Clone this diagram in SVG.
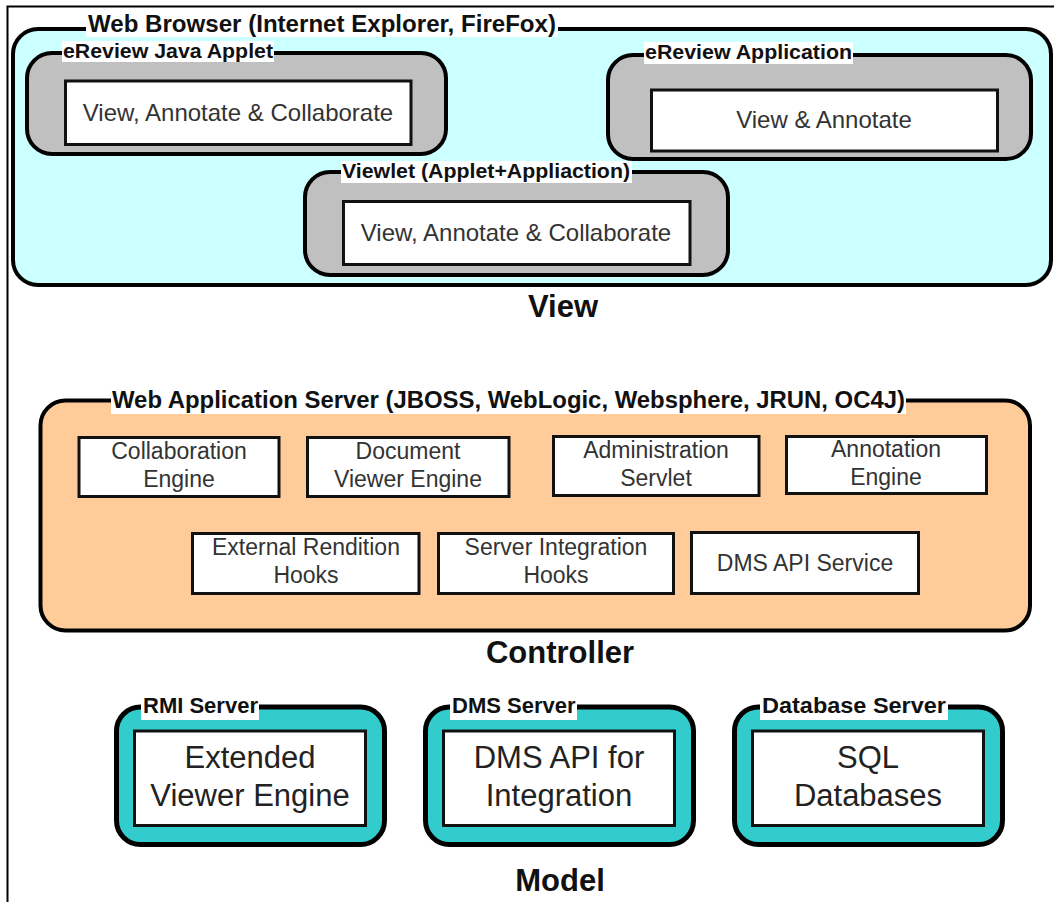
<svg xmlns="http://www.w3.org/2000/svg" width="1054" height="902" viewBox="0 0 1054 902">
<style>
.frame{stroke:#000;stroke-width:2;fill:none}
.cont{stroke:#000;stroke-width:4}
.browser{fill:#CCFFFF}
.gray{fill:#C0C0C0}
.orange{fill:#FFCC99}
.teal{fill:#33CCCC;stroke:#000;stroke-width:5}
.inner{fill:#fff;stroke:#111;stroke-width:3}
.lblbg{fill:#fff}
.title{font-family:"Liberation Sans",Arial,sans-serif;font-weight:bold;fill:#111}
.t23{font-size:23px}
.t20{font-size:20px}
.t22{font-size:22px}
.sec{font-family:"Liberation Sans",Arial,sans-serif;font-weight:bold;font-size:31px;fill:#111;text-anchor:middle}
.txt{font-family:"Liberation Sans",Arial,sans-serif;fill:#333;text-anchor:middle}
.v24{font-size:24px}
.c23{font-size:23px}
.m31{font-size:31px;fill:#222}
</style>
<rect x="0" y="0" width="1054" height="902" fill="#fff"/>
<path class="frame" d="M7.5,902 V6.5 H1054"/>

<g id="web-browser">
<rect class="browser cont" x="13" y="29" width="1038" height="256" rx="25"/>
<rect class="lblbg" x="86" y="15" width="472" height="22"/>
<text class="title t23" x="88" y="32" textLength="468" lengthAdjust="spacingAndGlyphs">Web Browser (Internet Explorer, FireFox)</text>
</g>

<g id="ereview-java-applet">
<rect class="gray cont" x="27" y="53" width="419" height="101" rx="25"/>
<rect class="lblbg" x="62" y="41" width="212" height="21"/>
<text class="title t20" x="63" y="58" textLength="210" lengthAdjust="spacingAndGlyphs">eReview Java Applet</text>
<rect class="inner" x="65.5" y="81" width="345.5" height="63.5"/>
<text class="txt v24" x="238" y="121">View, Annotate &amp; Collaborate</text>
</g>

<g id="ereview-application">
<rect class="gray cont" x="608" y="55" width="423" height="104" rx="25"/>
<rect class="lblbg" x="644" y="42" width="209" height="22"/>
<text class="title t20" x="645" y="59" textLength="207" lengthAdjust="spacingAndGlyphs">eReview Application</text>
<rect class="inner" x="651.5" y="90" width="346" height="61"/>
<text class="txt v24" x="824" y="128">View &amp; Annotate</text>
</g>

<g id="viewlet">
<rect class="gray cont" x="305" y="172" width="423" height="103" rx="25"/>
<rect class="lblbg" x="341" y="161" width="291" height="22"/>
<text class="title t20" x="342" y="178" textLength="288" lengthAdjust="spacingAndGlyphs">Viewlet (Applet+Appliaction)</text>
<rect class="inner" x="343.5" y="201.5" width="346.5" height="63"/>
<text class="txt v24" x="516" y="241">View, Annotate &amp; Collaborate</text>
</g>

<g id="view-label">
<text class="sec" x="563" y="317">View</text>
</g>

<g id="web-application-server">
<rect class="orange cont" x="40.5" y="400.5" width="989.5" height="230" rx="25"/>
<rect class="lblbg" x="111" y="389" width="795" height="25"/>
<text class="title t23" x="112" y="408" textLength="793" lengthAdjust="spacingAndGlyphs">Web Application Server (JBOSS, WebLogic, Websphere, JRUN, OC4J)</text>
</g>

<g id="collaboration-engine">
<rect class="inner" x="79" y="437.5" width="200" height="59"/>
<text class="txt c23" x="179" y="459">Collaboration</text>
<text class="txt c23" x="179" y="487">Engine</text>
</g>
<g id="document-viewer-engine">
<rect class="inner" x="307.5" y="437.5" width="201.5" height="59"/>
<text class="txt c23" x="408" y="459">Document</text>
<text class="txt c23" x="408" y="487">Viewer Engine</text>
</g>
<g id="administration-servlet">
<rect class="inner" x="553.5" y="436.5" width="205.5" height="59"/>
<text class="txt c23" x="656" y="458">Administration</text>
<text class="txt c23" x="656" y="486">Servlet</text>
</g>
<g id="annotation-engine">
<rect class="inner" x="786.5" y="436.5" width="200" height="57"/>
<text class="txt c23" x="886" y="457">Annotation</text>
<text class="txt c23" x="886" y="485">Engine</text>
</g>
<g id="external-rendition-hooks">
<rect class="inner" x="192.5" y="533.5" width="226.5" height="60"/>
<text class="txt c23" x="306" y="555">External Rendition</text>
<text class="txt c23" x="306" y="583">Hooks</text>
</g>
<g id="server-integration-hooks">
<rect class="inner" x="438.5" y="533.5" width="235" height="60"/>
<text class="txt c23" x="556" y="555">Server Integration</text>
<text class="txt c23" x="556" y="583">Hooks</text>
</g>
<g id="dms-api-service">
<rect class="inner" x="691.5" y="532.5" width="227" height="61"/>
<text class="txt c23" x="805" y="571">DMS API Service</text>
</g>

<g id="controller-label">
<text class="sec" x="560" y="663">Controller</text>
</g>

<g id="rmi-server">
<rect class="teal" x="116.5" y="707" width="268" height="137.5" rx="24"/>
<rect class="lblbg" x="141" y="696" width="118" height="24"/>
<text class="title t22" x="143" y="713">RMI Server</text>
<rect class="inner" x="134.5" y="731" width="231" height="94.5"/>
<text class="txt m31" x="250" y="768">Extended</text>
<text class="txt m31" x="250" y="806">Viewer Engine</text>
</g>

<g id="dms-server">
<rect class="teal" x="425.5" y="707" width="268" height="137.5" rx="24"/>
<rect class="lblbg" x="450" y="696" width="127" height="24"/>
<text class="title t22" x="452" y="713">DMS Server</text>
<rect class="inner" x="443.5" y="731" width="231" height="94.5"/>
<text class="txt m31" x="559" y="768">DMS API for</text>
<text class="txt m31" x="559" y="806">Integration</text>
</g>

<g id="database-server">
<rect class="teal" x="734.5" y="707" width="268" height="137.5" rx="24"/>
<rect class="lblbg" x="760" y="696" width="188" height="24"/>
<text class="title t22" x="762" y="713" textLength="184" lengthAdjust="spacingAndGlyphs">Database Server</text>
<rect class="inner" x="752.5" y="731" width="231" height="94.5"/>
<text class="txt m31" x="868" y="768">SQL</text>
<text class="txt m31" x="868" y="806">Databases</text>
</g>

<g id="model-label">
<text class="sec" x="560" y="891">Model</text>
</g>

<g id="connectors"></g>
</svg>
